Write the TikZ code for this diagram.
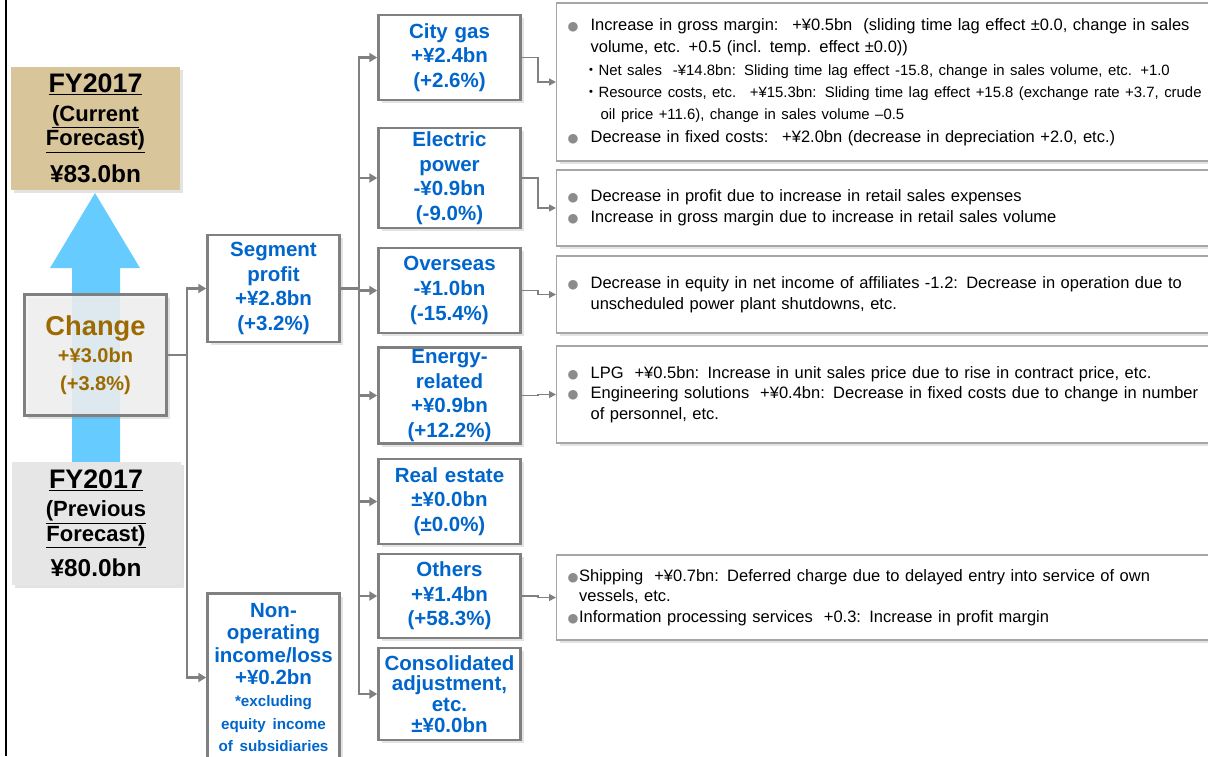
\documentclass[tikz,border=0pt]{standalone}
\usepackage{fontspec}
\setmainfont{Liberation Sans}
\newfontfamily\symfont{DejaVu Sans}
\newfontfamily\jpfont{Noto Sans CJK JP}
\usetikzlibrary{arrows.meta,shadows}

\definecolor{segblue}{HTML}{0066CC}
\definecolor{chgbrown}{HTML}{9C6A00}
\definecolor{linegray}{HTML}{808080}
\definecolor{boxgray}{HTML}{A6A6A6}
\definecolor{bulgray}{HTML}{8C8C8C}
\definecolor{tanfill}{HTML}{D9C59A}
\definecolor{prevgray}{HTML}{E6E6E6}
\definecolor{chggray}{HTML}{F2F2F2}
\definecolor{arrowblue}{HTML}{66CCFF}

\newcommand{\bul}{{\symfont\fontsize{12.5}{12}\selectfont\textcolor{bulgray}{●}}}
\newcommand{\subdot}{{\jpfont ・}}
\newcommand{\subsz}{\fontsize{14.9}{22.3}\selectfont}

\begin{document}
\begin{tikzpicture}[x=1pt,y=-1pt,
    softshadow/.style={drop shadow={opacity=0.22,shadow xshift=3pt,shadow yshift=-3pt}},
    fybox/.style={softshadow,minimum width=169pt,minimum height=123pt,text width=160pt,
        align=center,inner sep=2pt,font=\bfseries\fontsize{22}{24.5}\selectfont},
    chgbox/.style={softshadow,draw=linegray,line width=3pt,fill=chggray,fill opacity=0.85,
        text opacity=1,minimum width=142pt,minimum height=121pt,text width=138pt,
        align=center,inner sep=2pt,text=chgbrown,font=\bfseries\fontsize{20}{27.5}\selectfont},
    seg/.style={softshadow,draw=linegray,line width=2.5pt,fill=white,text=segblue,
        align=center,minimum width=142pt,text width=138pt,inner sep=2pt,
        font=\bfseries\fontsize{20.5}{24.6}\selectfont},
    detail/.style={softshadow,draw=boxgray,line width=1.2pt,fill=white,anchor=west,
        text width=700pt,inner xsep=11pt,align=left,font=\fontsize{16.5}{21}\selectfont},
    conn/.style={draw=linegray,line width=2.5pt,-{Triangle[length=8pt,width=9pt]}},
    subconn/.style={draw=linegray,line width=1.5pt,-{Triangle[length=7pt,width=7pt]}}]

\useasboundingbox (0,0) rectangle (1208,756);
\draw[line width=2pt] (6,0) -- (6,756);

% arrow from previous to current forecast
\fill[arrowblue] (72,462) -- (72,268) -- (50,268) -- (95,193) -- (140,268)
    -- (120,268) -- (120,462) -- cycle;

\node[fybox,fill=tanfill] (cur) at (95.5,128.5)
    {{\fontsize{26.8}{24}\selectfont\underline{FY2017}}\\[4pt]
     \underline{(Current}\\\underline{Forecast)}\\[12pt]
     {\fontsize{24.4}{24}\selectfont ¥83.0bn}};
\node[fybox,fill=prevgray] (prev) at (96,523.5)
    {{\fontsize{26.8}{24}\selectfont\underline{FY2017}}\\[4pt]
     \underline{(Previous}\\\underline{Forecast)}\\[11pt]
     {\fontsize{24.4}{24}\selectfont ¥80.0bn}};
\node[chgbox] (chg) at (95.5,355)
    {{\fontsize{27.3}{27.5}\selectfont Change}\\+¥3.0bn\\(+3.8\%)};

\node[seg,minimum width=131pt,text width=128pt,minimum height=107pt] (seg) at (273.5,288.5)
    {Segment\\profit\\+¥2.8bn\\(+3.2\%)};
\node[seg,minimum width=131pt,text width=128pt,minimum height=168pt,
      font=\bfseries\fontsize{20.5}{22.3}\selectfont] (nonop) at (273.5,677.5)
    {Non-\\operating\\income/loss\\+¥0.2bn\\
     {\fontsize{15.2}{22.3}\selectfont *excluding\\equity income\\of subsidiaries}};

\node[seg,minimum height=85pt] (gas) at (449.5,57.5) {City gas\\+¥2.4bn\\(+2.6\%)};
\node[seg,minimum height=100pt] (elec) at (449.5,178) {Electric\\power\\-¥0.9bn\\(-9.0\%)};
\node[seg,minimum height=85pt] (ovs) at (449.5,290.5) {Overseas\\-¥1.0bn\\(-15.4\%)};
\node[seg,minimum height=95pt] (enr) at (449.5,395.5) {Energy-\\related\\+¥0.9bn\\(+12.2\%)};
\node[seg,minimum height=85pt] (real) at (449.5,501.5) {Real estate\\±¥0.0bn\\(±0.0\%)};
\node[seg,minimum height=84pt] (oth) at (449.5,596) {Others\\+¥1.4bn\\(+58.3\%)};
\node[seg,minimum height=92pt,font=\bfseries\fontsize{20.5}{20.7}\selectfont] (adj) at (449.5,694)
    {Consolidated\\adjustment,\\etc.\\±¥0.0bn};

\node[detail,minimum height=158pt,font=\fontsize{16.5}{22.3}\selectfont] (d1) at (556,82)
    {\makebox[23pt][l]{\bul}Increase in gross margin:~ +¥0.5bn~ (sliding time lag effect ±0.0, change in sales\\
     \hspace*{23pt}volume, etc. +0.5 (incl. temp. effect ±0.0))\\
     {\subsz\hspace*{16pt}\subdot Net sales~ -¥14.8bn: Sliding time lag effect -15.8, change in sales volume, etc. +1.0}\\
     {\subsz\hspace*{16pt}\subdot Resource costs, etc.~ +¥15.3bn: Sliding time lag effect +15.8 (exchange rate +3.7, crude}\\
     {\subsz\hspace*{33pt}oil price +11.6), change in sales volume –0.5}\\
     \makebox[23pt][l]{\bul}Decrease in fixed costs:~ +¥2.0bn (decrease in depreciation +2.0, etc.)};
\node[detail,minimum height=76pt] (d2) at (556,208)
    {\makebox[23pt][l]{\bul}Decrease in profit due to increase in retail sales expenses\\
     \makebox[23pt][l]{\bul}Increase in gross margin due to increase in retail sales volume};
\node[detail,minimum height=77pt] (d3) at (556,294.5)
    {\makebox[23pt][l]{\bul}Decrease in equity in net income of affiliates -1.2: Decrease in operation due to\\
     \hspace*{23pt}unscheduled power plant shutdowns, etc.};
\node[detail,minimum height=97pt,font=\fontsize{16.5}{20.5}\selectfont] (d4) at (556,394.5)
    {\makebox[23pt][l]{\bul}LPG~ +¥0.5bn: Increase in unit sales price due to rise in contract price, etc.\\
     \makebox[23pt][l]{\bul}Engineering solutions~ +¥0.4bn: Decrease in fixed costs due to change in number\\
     \hspace*{23pt}of personnel, etc.};
\node[detail,minimum height=85pt,font=\fontsize{16.5}{20.5}\selectfont] (d5) at (556,597.5)
    {\makebox[11.5pt][l]{\bul}Shipping~ +¥0.7bn: Deferred charge due to delayed entry into service of own\\
     \hspace*{11.5pt}vessels, etc.\\
     \makebox[11.5pt][l]{\bul}Information processing services~ +0.3: Increase in profit margin};

\draw[conn] (chg.east) -- ++(19,0) coordinate (ja) |- (seg.west);
\draw[conn] (ja) |- (nonop.west);
\draw[conn] (seg.east) -- ++(18,0) coordinate (jb) |- (gas.west);
\foreach \n in {elec,ovs,enr,real,oth,adj}
    \draw[conn] (jb) |- (\n.west);

\draw[subconn] (gas.east) -- ++(16,0) |- (d1.west);
\draw[subconn] (elec.east) -- ++(16,0) |- (d2.west);
\draw[subconn] (ovs.east) -- ++(16,0) |- (d3.west);
\draw[subconn] (enr.east) -- ++(16,0) |- (d4.west);
\draw[subconn] (oth.east) -- ++(16,0) |- (d5.west);
\end{tikzpicture}
\end{document}
